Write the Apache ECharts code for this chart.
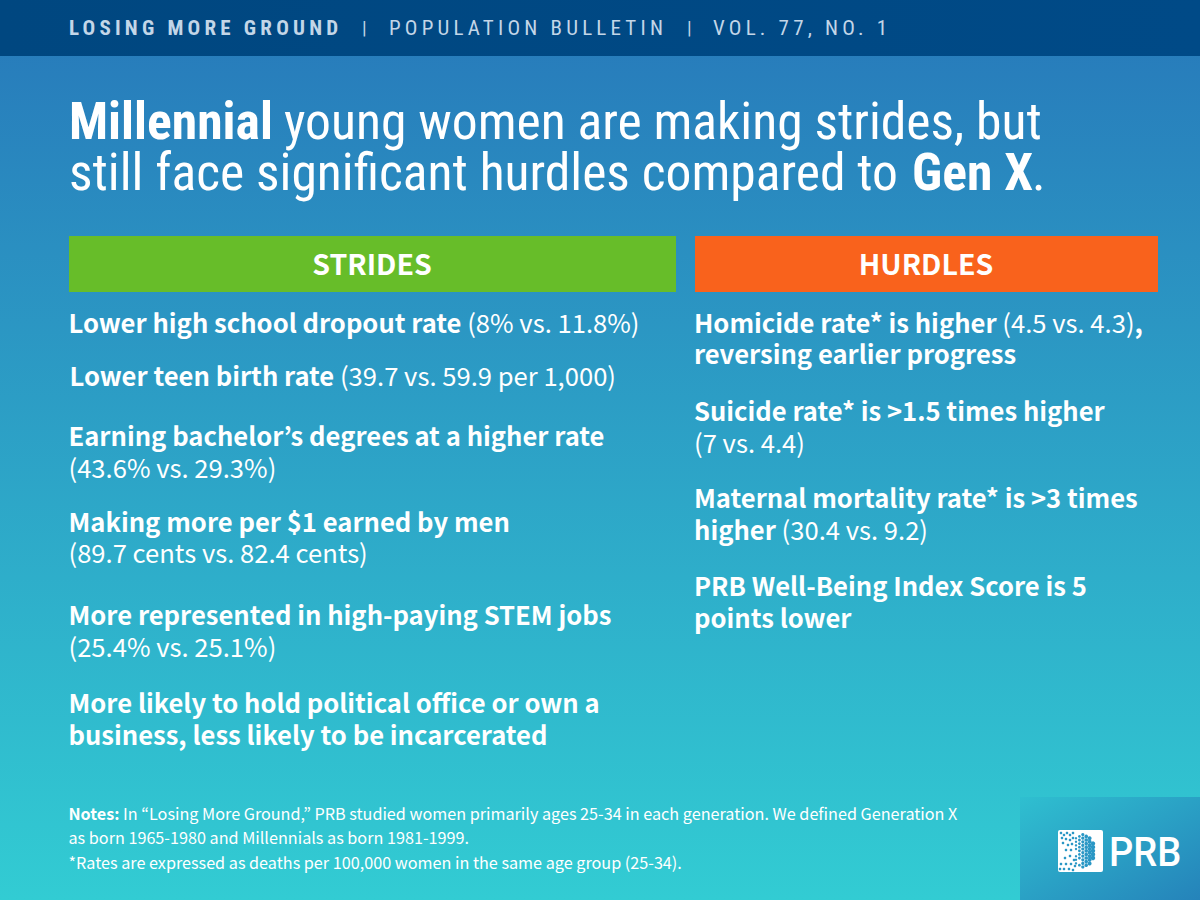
<!DOCTYPE html>
<html>
<head>
<meta charset="utf-8">
<title>Losing More Ground</title>
<style>
html, body { margin: 0; padding: 0; background: #2b9cc6; }
#main { width: 1200px; height: 900px; }
/* zrender has no letterSpacing or stretch, the svg output gets them from here (matched on font size) */
#main svg text[style*="21px"] { letter-spacing: 4.2px; font-stretch: condensed; }
#main svg text[style*="51.6px"] { font-stretch: condensed; }
</style>
<script src="https://cdn.jsdelivr.net/npm/echarts@6/dist/echarts.min.js"></script>
</head>
<body>
<div id="main"></div>
<script>
// texts, in the line lists even entries are bold and odd entries regular
var headerBold = 'LOSING MORE GROUND';
var headerParts = ['POPULATION BULLETIN', 'VOL. 77, NO. 1'];
var titleBold = ['Millennial', 'Gen X'];
var titleRegular = ['young women are making strides, but', 'still face significant hurdles compared to', '.'];
var stridesTitle = 'STRIDES';
var hurdlesTitle = 'HURDLES';
var stridesLines = [
    ['Lower high school dropout rate', ' (8% vs. 11.8%)'],
    ['Lower teen birth rate', ' (39.7 vs. 59.9 per 1,000)'],
    ['Earning bachelor\u2019s degrees at a higher rate'],
    ['', '(43.6% vs. 29.3%)'],
    ['Making more per $1 earned by men'],
    ['', '(89.7 cents vs. 82.4 cents)'],
    ['More represented in high-paying STEM jobs'],
    ['', '(25.4% vs. 25.1%)'],
    ['More likely to hold political office or own a'],
    ['business, less likely to be incarcerated']
];
var hurdlesLines = [
    ['Homicide rate* is higher', ' (4.5 vs. 4.3)', ','],
    ['reversing earlier progress'],
    ['Suicide rate* is >1.5 times higher'],
    ['', '(7 vs. 4.4)'],
    ['Maternal mortality rate* is >3 times'],
    ['higher', ' (30.4 vs. 9.2)'],
    ['PRB Well-Being Index Score is 5'],
    ['points lower']
];
var noteLines = [
    ['Notes:', ' In \u201cLosing More Ground,\u201d PRB studied women primarily ages 25-34 in each generation. We defined Generation X'],
    ['', 'as born 1965-1980 and Millennials as born 1981-1999.'],
    ['', '*Rates are expressed as deaths per 100,000 women in the same age group (25-34).']
];
var logoText = 'PRB';

// y centres of the lines
var stridesY = [321, 374, 434, 466, 520, 551, 613, 645, 701, 733];
var hurdlesY = [321, 352, 409, 441, 496, 528, 584, 616];
var noteY = [813, 837, 862];
var titleY = [121, 172];
// loose dots on the left of the logo
var logoDots = [
    [1061, 833], [1064, 835], [1067, 833], [1070, 835], [1073, 833], [1062, 838], [1066, 839], [1070, 840],
    [1073, 838], [1063, 843], [1068, 845], [1072, 844], [1066, 850], [1071, 850], [1070, 856], [1065, 858],
    [1074, 860], [1061, 864], [1066, 864], [1071, 864], [1075, 866], [1060, 869], [1064, 869], [1069, 869], [1073, 870]
];

var bodyFont = '"Noto Sans CJK KR"';
var titleFont = 'Roboto';

function makeRich(parts) {
    var s = '';
    for (var i = 0; i < parts.length; i++) {
        if (parts[i] === '') continue;
        s += '{' + (i % 2 == 0 ? 'b' : 'r') + '|' + parts[i] + '}';
    }
    return s;
}

function richLine(parts, x, y, font, size) {
    return {
        type: 'text',
        x: x,
        y: y,
        style: {
            text: makeRich(parts),
            fill: '#fff',
            verticalAlign: 'middle',
            rich: {
                b: { fontFamily: font, fontSize: size, fontWeight: 'bold', fill: '#fff' },
                r: { fontFamily: font, fontSize: size, fontWeight: 'normal', fill: '#fff' }
            }
        }
    };
}

function plain(text, x, y, font, size, weight, color, align) {
    return {
        type: 'text',
        x: x,
        y: y,
        style: {
            text: text,
            fontFamily: font,
            fontSize: size,
            fontWeight: weight,
            fill: color,
            align: align || 'left',
            verticalAlign: 'middle'
        }
    };
}

function grad(x, y, x2, y2, c1, c2) {
    return new echarts.graphic.LinearGradient(x, y, x2, y2, [
        { offset: 0, color: c1 },
        { offset: 1, color: c2 }
    ]);
}

var els = [];
// backgrounds
els.push({ type: 'rect', shape: { x: 0, y: 0, width: 1200, height: 900 }, style: { fill: grad(0, 0, 0, 1, '#2778ba', '#32ccd3') } });
els.push({ type: 'rect', shape: { x: 0, y: 0, width: 1200, height: 56 }, style: { fill: grad(0, 0, 1, 0, '#004780', '#004a87') } });
els.push({ type: 'rect', shape: { x: 69, y: 236, width: 607, height: 56 }, style: { fill: '#67bd29' } });
els.push({ type: 'rect', shape: { x: 695, y: 236, width: 463, height: 56 }, style: { fill: '#f9621c' } });
els.push({ type: 'rect', shape: { x: 1020, y: 797, width: 180, height: 103 }, style: { fill: grad(0, 0, 1, 1, '#2fbfd0', '#2583ba') } });

// header
els.push(plain(headerBold, 69, 28, titleFont, '21px', 'bold', '#c3d6e8'));
els.push(plain('|', 362, 27, titleFont, 19, 'normal', '#c3d6e8'));
els.push(plain(headerParts[0], 389, 28, titleFont, '21px', 'normal', '#c3d6e8'));
els.push(plain('|', 687, 27, titleFont, 19, 'normal', '#c3d6e8'));
els.push(plain(headerParts[1], 713, 28, titleFont, '21px', 'normal', '#c3d6e8'));

// title, pieces placed by hand because the condensed widths are not what zrender measures
els.push(plain(titleBold[0], 69, titleY[0], titleFont, '51.6px', 'bold', '#fff'));
els.push(plain(titleRegular[0], 284, titleY[0], titleFont, '51.6px', 'normal', '#fff'));
els.push(plain(titleRegular[1], 69, titleY[1], titleFont, '51.6px', 'normal', '#fff'));
els.push(plain(titleBold[1], 912, titleY[1], titleFont, '51.6px', 'bold', '#fff'));
els.push(plain(titleRegular[2], 1032, titleY[1], titleFont, '51.6px', 'normal', '#fff'));

// column heads
els.push(plain(stridesTitle, 372, 262, bodyFont, 28.5, 'bold', '#fff', 'center'));
els.push(plain(hurdlesTitle, 926, 262, bodyFont, 28.5, 'bold', '#fff', 'center'));

// body
for (var i = 0; i < stridesLines.length; i++) {
    els.push(richLine(stridesLines[i], i == 1 ? 69.5 : 68.5, stridesY[i], bodyFont, 25.6));
}
for (var i = 0; i < hurdlesLines.length; i++) {
    els.push(richLine(hurdlesLines[i], 694, hurdlesY[i], bodyFont, 25.6));
}
for (var i = 0; i < noteLines.length; i++) {
    els.push(richLine(noteLines[i], 68.5, noteY[i], bodyFont, 16.2));
}

// logo: white card, loose dots left, packed dots of the globe right
els.push({ type: 'rect', shape: { x: 1058, y: 830, width: 45, height: 42, r: 2 }, style: { fill: '#fff' } });
for (var i = 0; i < logoDots.length; i++) {
    els.push({ type: 'circle', shape: { cx: logoDots[i][0], cy: logoDots[i][1], r: 1.3 }, style: { fill: '#2a97c5' } });
}
for (var cx = 1076; cx <= 1094; cx += 3.4) {
    var odd = Math.round((cx - 1076) / 3.4) % 2;
    for (var cy = 831 + odd * 1.8; cy < 872; cy += 3.6) {
        var dx = cx - 1074, dy = cy - 851;
        if (dx * dx + dy * dy > 21 * 21) continue;
        if (cx < 1082 && Math.abs(dy) > 15) continue;
        els.push({ type: 'circle', shape: { cx: cx, cy: cy, r: 1.2 + (cx - 1076) * 0.06 }, style: { fill: '#2a97c5' } });
    }
}
var prb = plain(logoText, 1109, 852, 'Roboto', 41, 500, '#fff');
prb.scaleX = 0.93;
els.push(prb);

var oChart = echarts.init(document.getElementById('main'), null, { renderer: 'svg' });
oChart.setOption({ animation: false, graphic: { elements: els } });
</script>
</body>
</html>
